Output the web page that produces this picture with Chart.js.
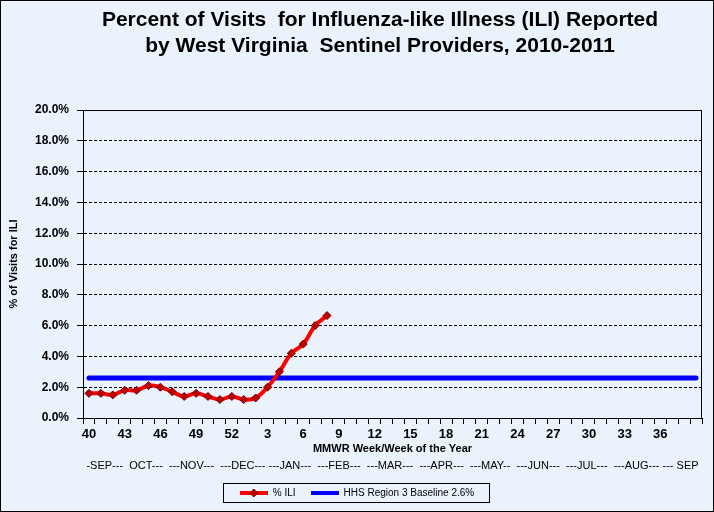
<!DOCTYPE html>
<html><head><meta charset="utf-8">
<script src="https://cdn.jsdelivr.net/npm/chart.js@4.4.0/dist/chart.umd.min.js"></script>
<style>html,body{margin:0;padding:0;background:#EAF2FC;} canvas{display:block;}</style>
</head><body>
<canvas id="c" width="714" height="512"></canvas>
<script>
// ---- data ----
const weeks = ['40','41','42','43','44','45','46','47','48','49','50','51','52',
  '1','2','3','4','5','6','7','8','9','10','11','12','13','14','15','16','17','18','19','20',
  '21','22','23','24','25','26','27','28','29','30','31','32','33','34','35','36','37','38','39'];
const xTickLabels = ['40','43','46','49','52','3','6','9','12','15','18','21','24','27','30','33','36'];
const iliPercent = [1.6,1.6,1.5,1.8,1.8,2.1,2.0,1.7,1.4,1.6,1.4,1.2,1.4,1.2,1.3,2.0,3.0,4.2,4.8,6.0,6.65];
const baselinePercent = 2.6;
const baselineSpan = ['40','39'];
const titleLines = ['Percent of Visits  for Influenza-like Illness (ILI) Reported',
                    'by West Virginia  Sentinel Providers, 2010-2011'];
const yAxisTitle = '% of Visits for ILI';
const xAxisTitle = 'MMWR Week/Week of the Year';
const monthRow = '-SEP---  OCT---  ---NOV---  ---DEC--- ---JAN---  ---FEB---  ---MAR---  ---APR---  ---MAY--  ---JUN---  ---JUL---  ---AUG--- --- SEP';
const seriesNames = ['% ILI', 'HHS Region 3 Baseline 2.6%'];

const FONT = '"Liberation Sans", Arial, sans-serif';
const BG = '#EAF2FC';
const LEGEND_PAD = 15;

function makeIcon(color, marker) {
  const cv = document.createElement('canvas');
  cv.width = 28; cv.height = 10;
  const g = cv.getContext('2d');
  g.strokeStyle = color; g.lineWidth = 4;
  g.beginPath(); g.moveTo(0, 5); g.lineTo(28, 5); g.stroke();
  if (marker) {
    g.fillStyle = '#C00000'; g.strokeStyle = '#700000'; g.lineWidth = 1;
    g.beginPath(); g.moveTo(14, 1); g.lineTo(18, 5); g.lineTo(14, 9); g.lineTo(10, 5); g.closePath();
    g.fill(); g.stroke();
  }
  return cv;
}
const legendIcons = [makeIcon('#FF0000', true), makeIcon('#0000FF', false)];

const framePlugin = {
  id: 'frame',
  afterLayout(chart) {
    if (chart.titleBlock) { chart.titleBlock.left = 46; chart.titleBlock.right = 714; }
    const lg = chart.legend;
    if (lg && lg.legendHitBoxes && lg.adjustHitBoxes) {
      lg.legendHitBoxes.forEach(h => { h.top -= lg.top + LEGEND_PAD; });
      lg.right = chart.width;
      lg.adjustHitBoxes();
    }
  },
  beforeDraw(chart) {
    const ctx = chart.ctx;
    ctx.save(); ctx.fillStyle = BG; ctx.fillRect(0, 0, chart.width, chart.height); ctx.restore();
  },
  beforeDatasetsDraw(chart) {
    const a = chart.chartArea, ctx = chart.ctx;
    ctx.save(); ctx.strokeStyle = '#000'; ctx.lineWidth = 1; ctx.setLineDash([]);
    ctx.strokeRect(Math.round(a.left) + 0.5, Math.round(a.top) + 0.5,
      Math.round(a.right - a.left) - 1, Math.round(a.bottom - a.top));
    ctx.restore();
  },
  afterDraw(chart) {
    const ctx = chart.ctx;
    ctx.save(); ctx.strokeStyle = '#000'; ctx.lineWidth = 1;
    ctx.strokeRect(0.5, 0.5, chart.width - 1, chart.height - 1);
    const lg = chart.legend;
    const hb = lg && lg.legendHitBoxes;
    if (hb && hb.length) {
      const first = hb[0], last = hb[hb.length - 1];
      const cy = first.top + first.height / 2;
      const l = Math.round(first.left - 17) + 0.5;
      const r = Math.round(last.left + last.width + 15) + 0.5;
      ctx.strokeRect(l, Math.round(cy - 10) + 0.5, r - l, 19);
    }
    ctx.restore();
  }
};

new Chart(document.getElementById('c'), {
  type: 'line',
  data: {
    labels: weeks,
    datasets: [
      {
        label: seriesNames[0],
        data: iliPercent,
        borderColor: '#FF0000',
        borderWidth: 4,
        tension: 0.4,
        pointStyle: 'rectRot',
        pointRadius: 4,
        pointBackgroundColor: '#C00000',
        pointBorderColor: '#700000',
        pointBorderWidth: 1,
        order: 0
      },
      {
        label: seriesNames[1],
        data: baselineSpan.map(w => ({x: w, y: baselinePercent})),
        borderColor: '#0000FF',
        borderWidth: 5,
        borderCapStyle: 'round',
        pointRadius: 0,
        order: 1
      }
    ]
  },
  options: {
    responsive: false,
    animation: false,
    events: [],
    layout: { padding: { left: 0, right: 12, top: 0, bottom: 4 } },
    plugins: {
      tooltip: { enabled: false },
      title: {
        display: true,
        text: titleLines,
        color: '#000',
        font: { family: FONT, size: 21, weight: 'bold', lineHeight: 1.25 },
        padding: { top: 7, bottom: 50.5 }
      },
      legend: {
        position: 'bottom',
        labels: {
          usePointStyle: true,
          pointStyleWidth: 28,
          boxHeight: 10,
          padding: LEGEND_PAD,
          color: '#000',
          font: { family: FONT, size: 10 },
          generateLabels(chart) {
            const items = Chart.defaults.plugins.legend.labels.generateLabels(chart);
            items.forEach(it => { it.pointStyle = legendIcons[it.datasetIndex]; });
            return items;
          }
        }
      }
    },
    scales: {
      y: {
        min: 0, max: 20,
        ticks: {
          stepSize: 2,
          color: '#000',
          padding: 8,
          font: { family: FONT, size: 12, weight: 'bold' },
          callback: v => v.toFixed(1) + '%'
        },
        grid: { color: '#000', lineWidth: 1, tickLength: 6, drawTicks: true, tickBorderDash: [] },
        border: { display: true, color: '#000', dash: [3, 2] },
        title: {
          display: true, text: yAxisTitle, color: '#000',
          font: { family: FONT, size: 11, weight: 'bold' },
          padding: { top: 7, bottom: 0 }
        },
        afterFit(s) { s.width = 83; }
      },
      x: {
        offset: true,
        ticks: {
          autoSkip: false, maxRotation: 0, minRotation: 0,
          color: '#000', padding: 3,
          font: { family: FONT, size: 13, weight: 'bold' },
          callback(v) { const l = this.getLabelForValue(v); return xTickLabels.includes(l) ? l : ''; }
        },
        grid: { offset: true, drawOnChartArea: false, drawTicks: true, tickLength: 6, color: '#000' },
        border: { display: true, color: '#000' },
        title: {
          display: true, text: xAxisTitle, color: '#000',
          font: { family: FONT, size: 11, weight: 'bold' },
          padding: { top: 0, bottom: 2 }
        },
        afterFit(s) { s.height = 40; }
      },
      x2: {
        type: 'category',
        position: 'bottom',
        weight: 1,
        offset: true,
        ticks: { display: false },
        grid: { display: false },
        border: { display: false },
        title: {
          display: true, text: monthRow, color: '#000',
          font: { family: FONT, size: 11 },
          padding: { top: 0, bottom: 0.5 }
        },
        afterFit(s) { s.height = 15; }
      }
    }
  },
  plugins: [framePlugin]
});
</script>
</body></html>
